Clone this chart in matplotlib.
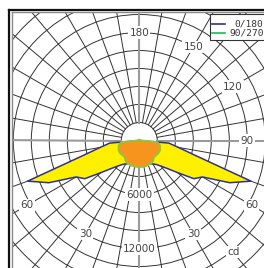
import numpy as np
import matplotlib
matplotlib.use("Agg")
import matplotlib.pyplot as plt
from matplotlib.lines import Line2D
from matplotlib.patches import Rectangle, Circle, Polygon

# ---- data (luminous intensity, cd) ----
angles = list(range(0, 185, 5))  # gamma, 0 = nadir, 180 = zenith
c0_cd = [2500, 2500, 2550, 2600, 2700, 2850, 3000, 3250, 3700, 4400,
         5550, 7400, 8100, 11100, 13200, 6500, 4400, 3300, 0, 0,
         0, 0, 0, 0, 0, 0, 0, 0, 0, 0,
         0, 0, 0, 0, 0, 0, 0]
c90_cd = [2950, 2950, 2950, 2940, 2900, 2850, 2830, 2700, 2500, 2480,
          2500, 2550, 2560, 2550, 2450, 2400, 2250, 2000, 300, 150,
          100, 100, 100, 100, 100, 100, 100, 100, 100, 100,
          100, 100, 100, 100, 100, 100, 100]
series_names = ["0/180", "90/270"]
ring_labels = ["6000", "12000"]
ring_label_values = [6000, 12000]
angle_labels_right = ["30", "60", "90", "120", "150", "180"]
angle_label_values_right = [30, 60, 90, 120, 150, 180]
angle_labels_left = ["30", "60"]
angle_label_values_left = [30, 60]
unit_label = "cd"

W, H = 264, 268
fig = plt.figure(figsize=(W / 100, H / 100), dpi=100)
fig.patch.set_facecolor("white")

# axes: left edge at px 12, top at px 13, centre of diagram at px (139.3,140.5), 9 px per 1000 cd
ax = fig.add_axes([12 / W, 0, 252 / W, 255 / H])
ax.set_xlim((12 - 139.3) / 9 * 1000, (264 - 139.3) / 9 * 1000)
ax.set_ylim(-(268 - 140.5) / 9 * 1000, (140.5 - 13) / 9 * 1000)
ax.axis("off")


def closed_xy(vals):
    a = np.radians(np.array(angles, dtype=float))
    v = np.array(vals, dtype=float)
    # right half (0..180) then mirrored left half (180..0)
    xr, yr = v * np.sin(a), -v * np.cos(a)
    xl, yl = -xr[::-1], yr[::-1]
    return np.concatenate([xr, xl]), np.concatenate([yr, yl])


# ---- grid ----
grid_c = "#333333"
for r in range(2000, 24000, 2000):
    ax.add_patch(Circle((0, 0), r, fill=False, ec=grid_c, lw=0.7, zorder=1))
for a in range(0, 360, 10):
    t = np.radians(a)
    x = [2000 * np.sin(t), 24000 * np.sin(t)]
    y = [-2000 * np.cos(t), -24000 * np.cos(t)]
    if a % 90 == 0:
        ax.plot(x, y, color="#9a9a9a", lw=1.5, zorder=1.2)
    else:
        ax.plot(x, y, color=grid_c, lw=0.7, zorder=1.1)

# ---- curves ----
x0, y0 = closed_xy(c0_cd)
ax.add_patch(Polygon(np.column_stack([x0, y0]), closed=True, fc="#FFF000", ec="none", zorder=2))
ax.plot(np.append(x0, x0[0]), np.append(y0, y0[0]), color="#2E3192", lw=1.1, zorder=3)

x9, y9 = closed_xy(c90_cd)
ax.add_patch(Polygon(np.column_stack([x9, y9]), closed=True, fc="#F7941D",
                     ec="#8DC63F", lw=1.3, zorder=4))

# ---- labels ----
lab_kw = dict(fontsize=7.5, color="#444444", ha="center", va="center", zorder=6,
              bbox=dict(boxstyle="square,pad=0.12", fc="white", ec="none"))
for lab, v in zip(angle_labels_right, angle_label_values_right):
    r = 14400 if v == 60 else 12000
    t = np.radians(v)
    ax.text(r * np.sin(t), -r * np.cos(t), lab, **lab_kw)
for lab, v in zip(angle_labels_left, angle_label_values_left):
    r = 14400 if v == 60 else 12000
    t = np.radians(v)
    ax.text(-r * np.sin(t), -r * np.cos(t), lab, **lab_kw)
for lab, v in zip(ring_labels, ring_label_values):
    ax.text(0, -v, lab, **lab_kw)
ax.text(10500, -12400, unit_label, **lab_kw)

# ---- frame (double line on left/top) ----
def fx(px):
    return px / W


def fy(py):
    return 1 - py / H


fig.add_artist(Line2D([fx(8.5), fx(8.5)], [fy(9.5), fy(270)], color="#111111", lw=1.6))
fig.add_artist(Line2D([fx(8.5), fx(270)], [fy(9.5), fy(9.5)], color="#111111", lw=1.6))
fig.add_artist(Line2D([fx(11.5), fx(11.5)], [fy(12), fy(270)], color="#8a8a8a", lw=1.0))
fig.add_artist(Line2D([fx(11.5), fx(270)], [fy(12), fy(12)], color="#8a8a8a", lw=1.0))

# ---- legend ----
fig.add_artist(Rectangle((fx(210), fy(40)), fx(60), 26 / H, transform=fig.transFigure,
                         fc="white", ec="#333333", lw=0.8, zorder=7))
leg_colors = ["#2E3192", "#1DB954"]
for i, (name, col) in enumerate(zip(series_names, leg_colors)):
    ypix = 24 + i * 9
    fig.add_artist(Line2D([fx(212), fx(225)], [fy(ypix), fy(ypix)], color=col, lw=1.2, zorder=8))
    fig.text(fx(263.5), fy(ypix), name, ha="right", va="center", fontsize=6.8,
             family="DejaVu Sans Mono", color="#333333", zorder=8)

fig.savefig("out.png", dpi=100, facecolor="white")
